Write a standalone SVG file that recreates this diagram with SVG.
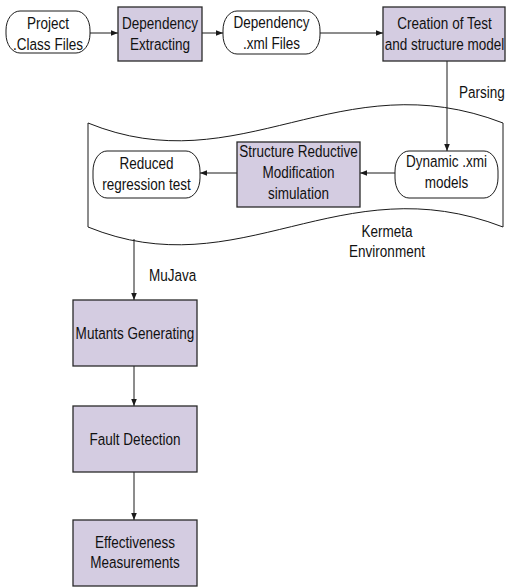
<svg xmlns="http://www.w3.org/2000/svg" width="506" height="587" viewBox="0 0 506 587">
  <style>
    .proc { fill: #d4cce1; stroke: #2a2a2a; stroke-width: 1.3; }
    .term { fill: #ffffff; stroke: #1a1a1a; stroke-width: 1; }
    .env { fill: #ffffff; stroke: #1a1a1a; stroke-width: 1; }
    .edge { fill: none; stroke: #1a1a1a; stroke-width: 1; }
    .lbl { font-family: "Liberation Sans", Arial, sans-serif; font-size: 16.5px; fill: #111111; text-anchor: middle; }
    .lbl-s { font-family: "Liberation Sans", Arial, sans-serif; font-size: 16.5px; fill: #111111; text-anchor: start; }
  </style>
  <defs>
    <marker id="arrow" viewBox="0 0 8 8" refX="8" refY="4" markerWidth="7" markerHeight="7" markerUnits="userSpaceOnUse" orient="auto">
      <path d="M0,0.8 L8,4 L0,7.2 Z" fill="#1a1a1a"/>
    </marker>
  </defs>

  <rect width="506" height="587" fill="#ffffff"/>

  <!-- Kermeta environment (tape shape) -->
  <g id="kermeta-env">
    <path class="env" d="M88,123 C240,185 340,60 503,123 L503,227 C340,164 240,289 88,227 Z"/>
    <text class="lbl" transform="translate(387,0) scale(0.82,1)"><tspan x="0" y="237">Kermeta</tspan><tspan x="0" y="257">Environment</tspan></text>
  </g>

  <!-- connectors -->
  <g id="connectors">
    <line class="edge" x1="90" y1="33" x2="118" y2="33" marker-end="url(#arrow)"/>
    <line class="edge" x1="202" y1="33" x2="223" y2="33" marker-end="url(#arrow)"/>
    <line class="edge" x1="320" y1="33" x2="383" y2="33" marker-end="url(#arrow)"/>
    <line class="edge" x1="447" y1="61" x2="447" y2="151" marker-end="url(#arrow)"/>
    <line class="edge" x1="395" y1="173" x2="360" y2="173" marker-end="url(#arrow)"/>
    <line class="edge" x1="237" y1="173" x2="200" y2="173" marker-end="url(#arrow)"/>
    <line class="edge" x1="134" y1="239" x2="134" y2="300" marker-end="url(#arrow)"/>
    <line class="edge" x1="134" y1="366" x2="134" y2="406" marker-end="url(#arrow)"/>
    <line class="edge" x1="134" y1="472" x2="134" y2="520" marker-end="url(#arrow)"/>
    <text class="lbl-s" transform="translate(459,0) scale(0.82,1)" x="0" y="98">Parsing</text>
    <text class="lbl-s" transform="translate(149,0) scale(0.82,1)" x="0" y="281">MuJava</text>
  </g>

  <g id="project-class-files">
    <rect class="term" x="6" y="11" width="84" height="42" rx="14" ry="19"/>
    <text class="lbl" transform="translate(48,0) scale(0.82,1)"><tspan x="0" y="29">Project</tspan><tspan x="0" y="50">.Class Files</tspan></text>
  </g>

  <g id="dependency-extracting">
    <rect class="proc" x="118" y="7" width="84" height="54"/>
    <text class="lbl" transform="translate(160,0) scale(0.82,1)"><tspan x="0" y="29">Dependency</tspan><tspan x="0" y="50">Extracting</tspan></text>
  </g>

  <g id="dependency-xml-files">
    <rect class="term" x="223" y="11" width="97" height="43" rx="14" ry="19"/>
    <text class="lbl" transform="translate(271.5,0) scale(0.82,1)"><tspan x="0" y="28">Dependency</tspan><tspan x="0" y="49">.xml Files</tspan></text>
  </g>

  <g id="creation-of-test">
    <rect class="proc" x="383" y="7" width="122" height="54"/>
    <text class="lbl" transform="translate(444.5,0) scale(0.82,1)"><tspan x="0" y="29">Creation of Test</tspan><tspan x="0" y="50">and structure model</tspan></text>
  </g>

  <g id="dynamic-xmi-models">
    <rect class="term" x="395" y="151" width="103" height="47" rx="14" ry="20"/>
    <text class="lbl" transform="translate(446.5,0) scale(0.82,1)"><tspan x="0" y="167">Dynamic .xmi</tspan><tspan x="0" y="188">models</tspan></text>
  </g>

  <g id="structure-reductive">
    <rect class="proc" x="237" y="142" width="123" height="65"/>
    <text class="lbl" transform="translate(298.5,0) scale(0.82,1)"><tspan x="0" y="157">Structure Reductive</tspan><tspan x="0" y="178">Modification</tspan><tspan x="0" y="199">simulation</tspan></text>
  </g>

  <g id="reduced-regression-test">
    <rect class="term" x="93" y="151" width="107" height="47" rx="14" ry="20"/>
    <text class="lbl" transform="translate(146.5,0) scale(0.82,1)"><tspan x="0" y="169">Reduced</tspan><tspan x="0" y="190">regression test</tspan></text>
  </g>

  <g id="mutants-generating">
    <rect class="proc" x="73" y="300" width="124" height="66"/>
    <text class="lbl" transform="translate(135,0) scale(0.82,1)" x="0" y="339">Mutants Generating</text>
  </g>

  <g id="fault-detection">
    <rect class="proc" x="73" y="406" width="124" height="66"/>
    <text class="lbl" transform="translate(135,0) scale(0.82,1)" x="0" y="445">Fault Detection</text>
  </g>

  <g id="effectiveness-measurements">
    <rect class="proc" x="73" y="520" width="124" height="66"/>
    <text class="lbl" transform="translate(135,0) scale(0.82,1)"><tspan x="0" y="548">Effectiveness</tspan><tspan x="0" y="568">Measurements</tspan></text>
  </g>
</svg>
